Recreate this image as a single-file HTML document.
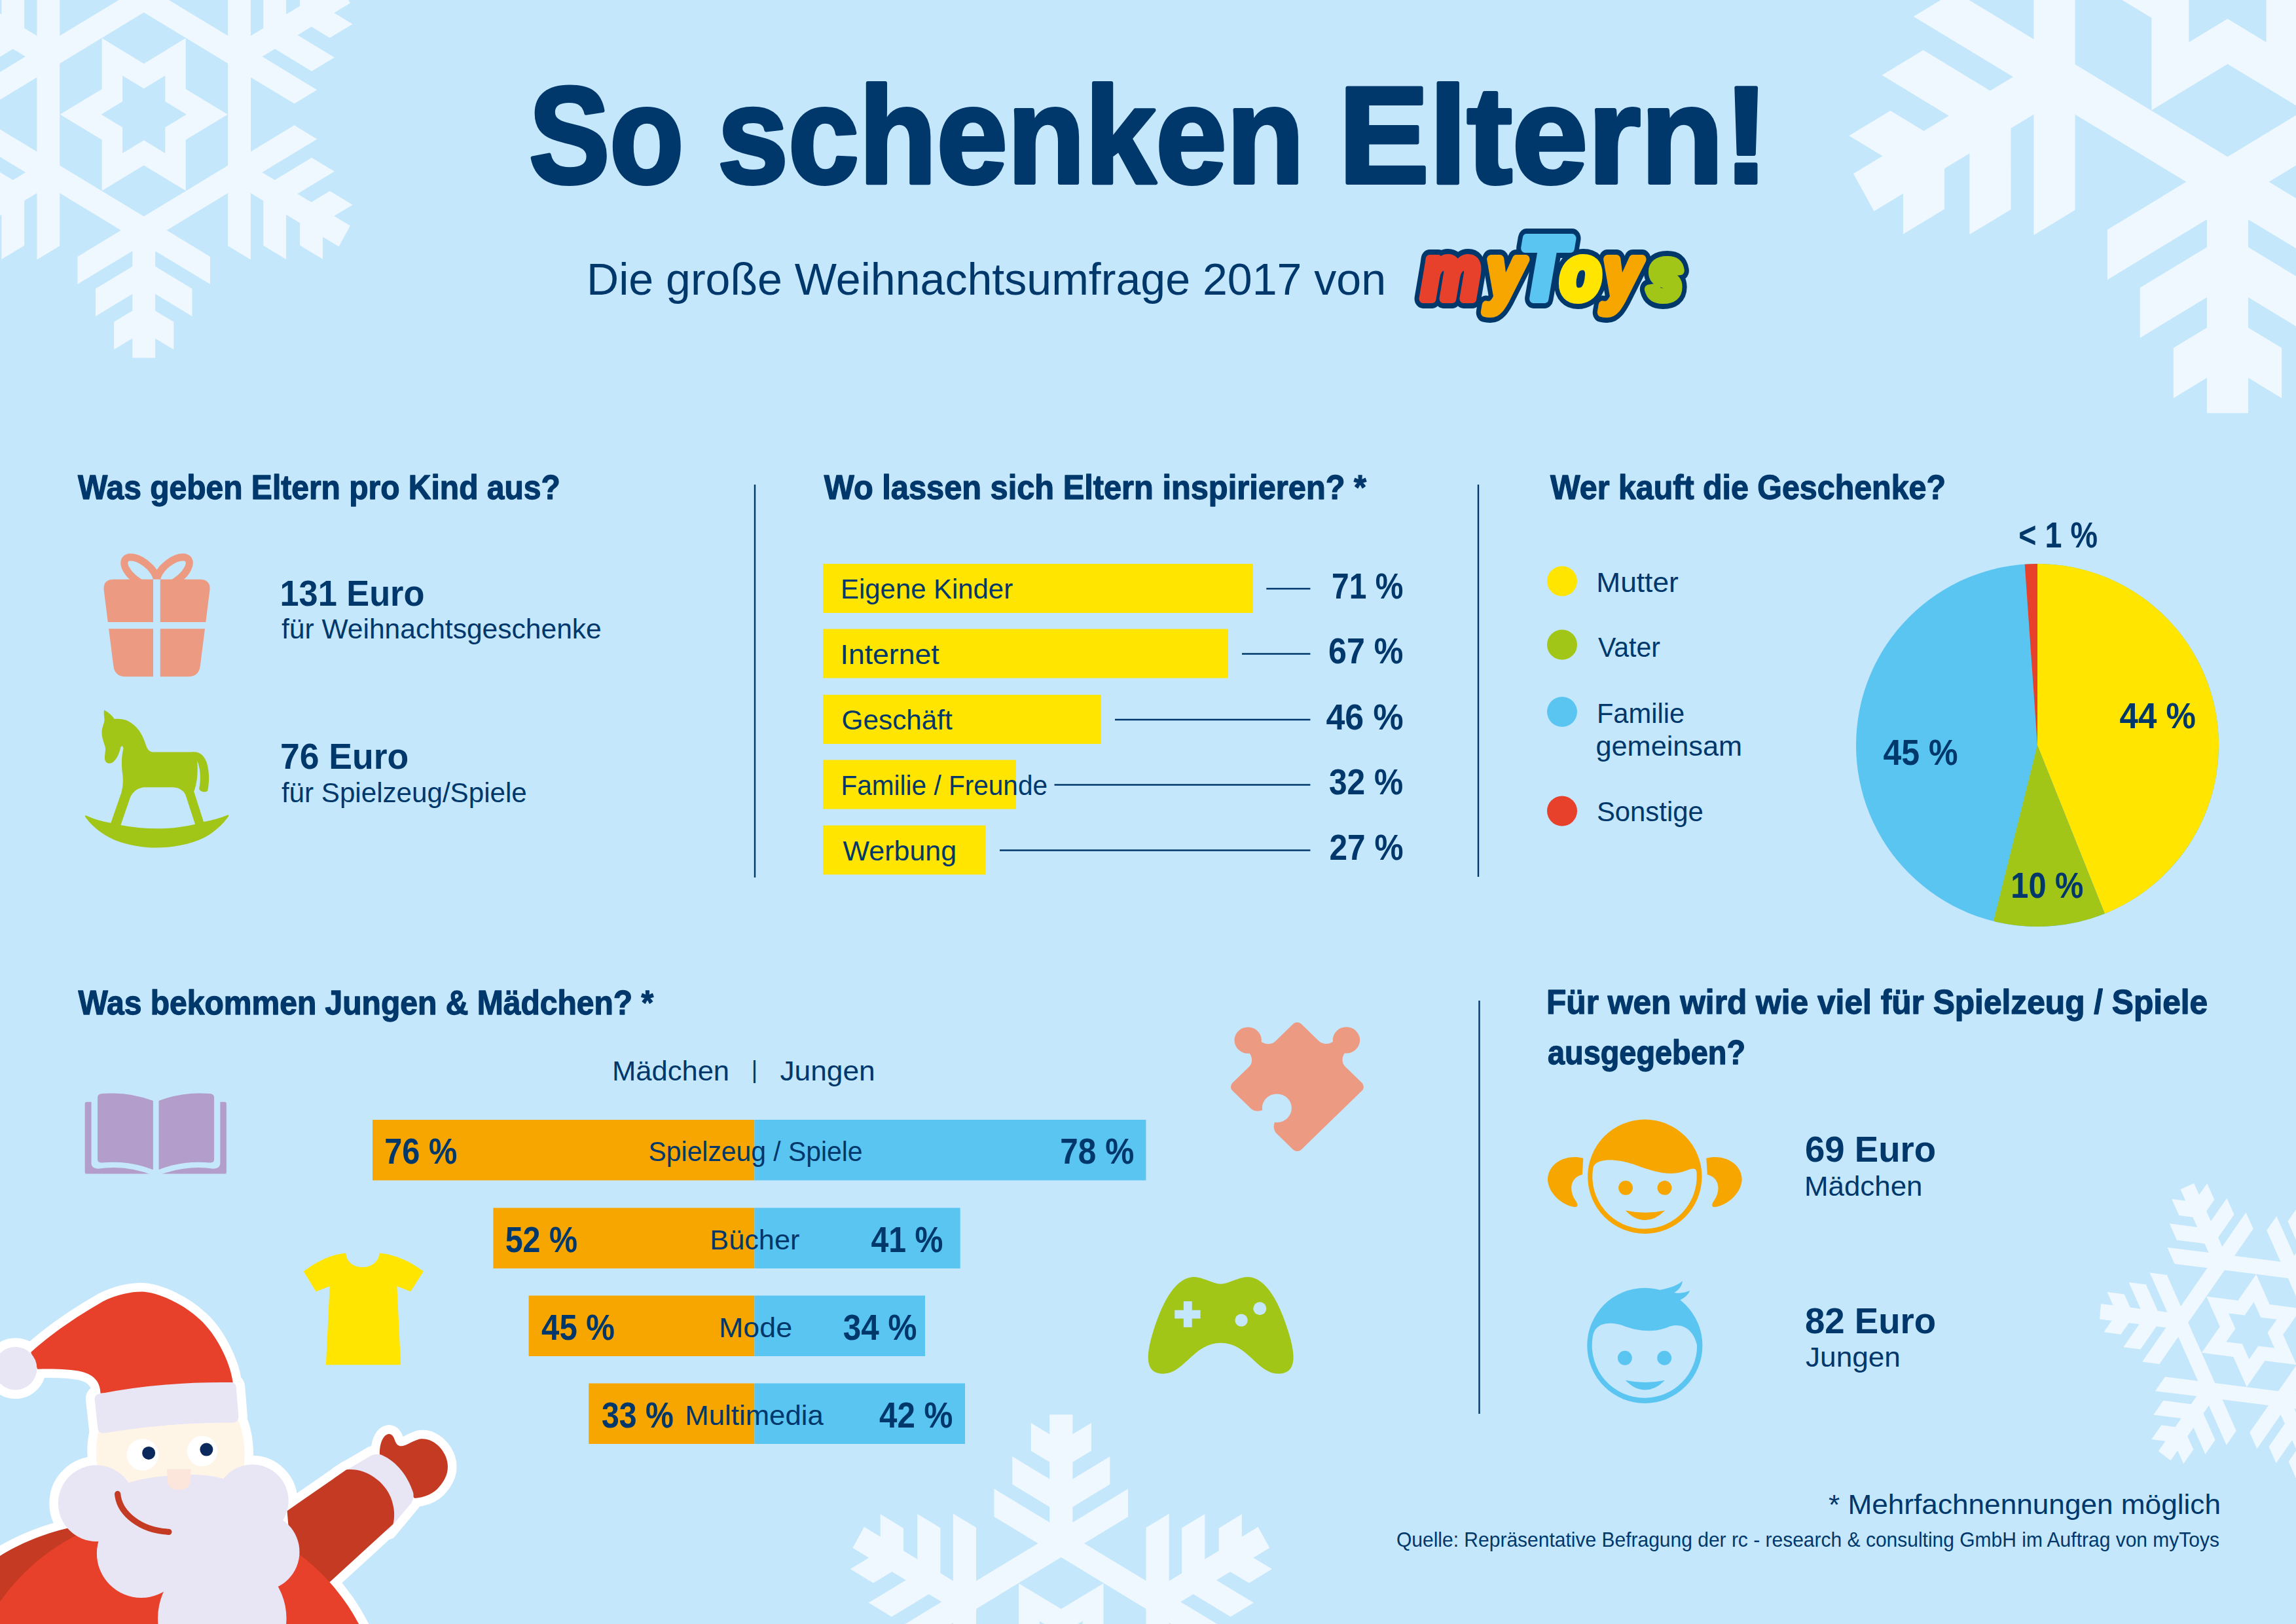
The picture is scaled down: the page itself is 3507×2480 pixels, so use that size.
<!DOCTYPE html><html lang="de"><head><meta charset="utf-8"><title>So schenken Eltern!</title>
<style>html,body{margin:0;padding:0;background:#c5e7fb}svg{display:block}text{fill:#00386c;white-space:pre}</style></head><body>
<svg width="3507" height="2480" viewBox="0 0 3507 2480" font-family="'Liberation Sans', sans-serif">
<rect width="3507" height="2480" fill="#c5e7fb"/>
<g fill="#eff8fe" transform="translate(219.7,174.8) rotate(0.0) scale(34.80,36.540)"><g transform="rotate(0)"><path d="M-0.5,4.540 L0.5,4.540 L0.5,10.170 L-0.5,10.170 Z"/><path d="M0.000,4.263 L-2.910,5.943 L-2.910,7.097 L0.000,5.417 Z"/><path d="M0.000,4.263 L2.910,5.943 L2.910,7.097 L0.000,5.417 Z"/><path d="M0.000,6.058 L-2.120,7.282 L-2.120,8.436 L0.000,7.212 Z"/><path d="M0.000,6.058 L2.120,7.282 L2.120,8.436 L0.000,7.212 Z"/><path d="M0.000,7.913 L-1.310,8.669 L-1.310,9.824 L0.000,9.067 Z"/><path d="M0.000,7.913 L1.310,8.669 L1.310,9.824 L0.000,9.067 Z"/></g><g transform="rotate(60)"><path d="M-0.5,4.540 L0.5,4.540 L0.5,10.170 L-0.5,10.170 Z"/><path d="M0.000,4.263 L-2.910,5.943 L-2.910,7.097 L0.000,5.417 Z"/><path d="M0.000,4.263 L2.910,5.943 L2.910,7.097 L0.000,5.417 Z"/><path d="M0.000,6.058 L-2.120,7.282 L-2.120,8.436 L0.000,7.212 Z"/><path d="M0.000,6.058 L2.120,7.282 L2.120,8.436 L0.000,7.212 Z"/><path d="M0.000,7.913 L-1.310,8.669 L-1.310,9.824 L0.000,9.067 Z"/><path d="M0.000,7.913 L1.310,8.669 L1.310,9.824 L0.000,9.067 Z"/></g><g transform="rotate(120)"><path d="M-0.5,4.540 L0.5,4.540 L0.5,10.170 L-0.5,10.170 Z"/><path d="M0.000,4.263 L-2.910,5.943 L-2.910,7.097 L0.000,5.417 Z"/><path d="M0.000,4.263 L2.910,5.943 L2.910,7.097 L0.000,5.417 Z"/><path d="M0.000,6.058 L-2.120,7.282 L-2.120,8.436 L0.000,7.212 Z"/><path d="M0.000,6.058 L2.120,7.282 L2.120,8.436 L0.000,7.212 Z"/><path d="M0.000,7.913 L-1.310,8.669 L-1.310,9.824 L0.000,9.067 Z"/><path d="M0.000,7.913 L1.310,8.669 L1.310,9.824 L0.000,9.067 Z"/></g><g transform="rotate(180)"><path d="M-0.5,4.540 L0.5,4.540 L0.5,10.170 L-0.5,10.170 Z"/><path d="M0.000,4.263 L-2.910,5.943 L-2.910,7.097 L0.000,5.417 Z"/><path d="M0.000,4.263 L2.910,5.943 L2.910,7.097 L0.000,5.417 Z"/><path d="M0.000,6.058 L-2.120,7.282 L-2.120,8.436 L0.000,7.212 Z"/><path d="M0.000,6.058 L2.120,7.282 L2.120,8.436 L0.000,7.212 Z"/><path d="M0.000,7.913 L-1.310,8.669 L-1.310,9.824 L0.000,9.067 Z"/><path d="M0.000,7.913 L1.310,8.669 L1.310,9.824 L0.000,9.067 Z"/></g><g transform="rotate(240)"><path d="M-0.5,4.540 L0.5,4.540 L0.5,10.170 L-0.5,10.170 Z"/><path d="M0.000,4.263 L-2.910,5.943 L-2.910,7.097 L0.000,5.417 Z"/><path d="M0.000,4.263 L2.910,5.943 L2.910,7.097 L0.000,5.417 Z"/><path d="M0.000,6.058 L-2.120,7.282 L-2.120,8.436 L0.000,7.212 Z"/><path d="M0.000,6.058 L2.120,7.282 L2.120,8.436 L0.000,7.212 Z"/><path d="M0.000,7.913 L-1.310,8.669 L-1.310,9.824 L0.000,9.067 Z"/><path d="M0.000,7.913 L1.310,8.669 L1.310,9.824 L0.000,9.067 Z"/></g><g transform="rotate(300)"><path d="M-0.5,4.540 L0.5,4.540 L0.5,10.170 L-0.5,10.170 Z"/><path d="M0.000,4.263 L-2.910,5.943 L-2.910,7.097 L0.000,5.417 Z"/><path d="M0.000,4.263 L2.910,5.943 L2.910,7.097 L0.000,5.417 Z"/><path d="M0.000,6.058 L-2.120,7.282 L-2.120,8.436 L0.000,7.212 Z"/><path d="M0.000,6.058 L2.120,7.282 L2.120,8.436 L0.000,7.212 Z"/><path d="M0.000,7.913 L-1.310,8.669 L-1.310,9.824 L0.000,9.067 Z"/><path d="M0.000,7.913 L1.310,8.669 L1.310,9.824 L0.000,9.067 Z"/></g><polygon points="4.192,2.420 0.000,4.840 -4.192,2.420 -4.192,-2.420 -0.000,-4.840 4.192,-2.420" fill="none" stroke="#eff8fe" stroke-width="1"/><path fill-rule="evenodd" d="M3.680,0.000 L1.840,1.062 L1.840,3.187 L0.000,2.125 L-1.840,3.187 L-1.840,1.062 L-3.680,0.000 L-1.840,-1.062 L-1.840,-3.187 L-0.000,-2.125 L1.840,-3.187 L1.840,-1.062 Z M1.874,0.000 L0.937,0.541 L0.937,1.623 L0.000,1.082 L-0.937,1.623 L-0.937,0.541 L-1.874,0.000 L-0.937,-0.541 L-0.937,-1.623 L-0.000,-1.082 L0.937,-1.623 L0.937,-0.541 Z"/></g>
<g fill="#eff8fe" transform="translate(3402.5,-43.0) rotate(0.0) scale(63.10,66.255)"><g transform="rotate(0)"><path d="M-0.5,4.540 L0.5,4.540 L0.5,10.170 L-0.5,10.170 Z"/><path d="M0.000,4.263 L-2.910,5.943 L-2.910,7.097 L0.000,5.417 Z"/><path d="M0.000,4.263 L2.910,5.943 L2.910,7.097 L0.000,5.417 Z"/><path d="M0.000,6.058 L-2.120,7.282 L-2.120,8.436 L0.000,7.212 Z"/><path d="M0.000,6.058 L2.120,7.282 L2.120,8.436 L0.000,7.212 Z"/><path d="M0.000,7.913 L-1.310,8.669 L-1.310,9.824 L0.000,9.067 Z"/><path d="M0.000,7.913 L1.310,8.669 L1.310,9.824 L0.000,9.067 Z"/></g><g transform="rotate(60)"><path d="M-0.5,4.540 L0.5,4.540 L0.5,10.170 L-0.5,10.170 Z"/><path d="M0.000,4.263 L-2.910,5.943 L-2.910,7.097 L0.000,5.417 Z"/><path d="M0.000,4.263 L2.910,5.943 L2.910,7.097 L0.000,5.417 Z"/><path d="M0.000,6.058 L-2.120,7.282 L-2.120,8.436 L0.000,7.212 Z"/><path d="M0.000,6.058 L2.120,7.282 L2.120,8.436 L0.000,7.212 Z"/><path d="M0.000,7.913 L-1.310,8.669 L-1.310,9.824 L0.000,9.067 Z"/><path d="M0.000,7.913 L1.310,8.669 L1.310,9.824 L0.000,9.067 Z"/></g><g transform="rotate(120)"><path d="M-0.5,4.540 L0.5,4.540 L0.5,10.170 L-0.5,10.170 Z"/><path d="M0.000,4.263 L-2.910,5.943 L-2.910,7.097 L0.000,5.417 Z"/><path d="M0.000,4.263 L2.910,5.943 L2.910,7.097 L0.000,5.417 Z"/><path d="M0.000,6.058 L-2.120,7.282 L-2.120,8.436 L0.000,7.212 Z"/><path d="M0.000,6.058 L2.120,7.282 L2.120,8.436 L0.000,7.212 Z"/><path d="M0.000,7.913 L-1.310,8.669 L-1.310,9.824 L0.000,9.067 Z"/><path d="M0.000,7.913 L1.310,8.669 L1.310,9.824 L0.000,9.067 Z"/></g><g transform="rotate(180)"><path d="M-0.5,4.540 L0.5,4.540 L0.5,10.170 L-0.5,10.170 Z"/><path d="M0.000,4.263 L-2.910,5.943 L-2.910,7.097 L0.000,5.417 Z"/><path d="M0.000,4.263 L2.910,5.943 L2.910,7.097 L0.000,5.417 Z"/><path d="M0.000,6.058 L-2.120,7.282 L-2.120,8.436 L0.000,7.212 Z"/><path d="M0.000,6.058 L2.120,7.282 L2.120,8.436 L0.000,7.212 Z"/><path d="M0.000,7.913 L-1.310,8.669 L-1.310,9.824 L0.000,9.067 Z"/><path d="M0.000,7.913 L1.310,8.669 L1.310,9.824 L0.000,9.067 Z"/></g><g transform="rotate(240)"><path d="M-0.5,4.540 L0.5,4.540 L0.5,10.170 L-0.5,10.170 Z"/><path d="M0.000,4.263 L-2.910,5.943 L-2.910,7.097 L0.000,5.417 Z"/><path d="M0.000,4.263 L2.910,5.943 L2.910,7.097 L0.000,5.417 Z"/><path d="M0.000,6.058 L-2.120,7.282 L-2.120,8.436 L0.000,7.212 Z"/><path d="M0.000,6.058 L2.120,7.282 L2.120,8.436 L0.000,7.212 Z"/><path d="M0.000,7.913 L-1.310,8.669 L-1.310,9.824 L0.000,9.067 Z"/><path d="M0.000,7.913 L1.310,8.669 L1.310,9.824 L0.000,9.067 Z"/></g><g transform="rotate(300)"><path d="M-0.5,4.540 L0.5,4.540 L0.5,10.170 L-0.5,10.170 Z"/><path d="M0.000,4.263 L-2.910,5.943 L-2.910,7.097 L0.000,5.417 Z"/><path d="M0.000,4.263 L2.910,5.943 L2.910,7.097 L0.000,5.417 Z"/><path d="M0.000,6.058 L-2.120,7.282 L-2.120,8.436 L0.000,7.212 Z"/><path d="M0.000,6.058 L2.120,7.282 L2.120,8.436 L0.000,7.212 Z"/><path d="M0.000,7.913 L-1.310,8.669 L-1.310,9.824 L0.000,9.067 Z"/><path d="M0.000,7.913 L1.310,8.669 L1.310,9.824 L0.000,9.067 Z"/></g><polygon points="4.192,2.420 0.000,4.840 -4.192,2.420 -4.192,-2.420 -0.000,-4.840 4.192,-2.420" fill="none" stroke="#eff8fe" stroke-width="1"/><path fill-rule="evenodd" d="M3.680,0.000 L1.840,1.062 L1.840,3.187 L0.000,2.125 L-1.840,3.187 L-1.840,1.062 L-3.680,0.000 L-1.840,-1.062 L-1.840,-3.187 L-0.000,-2.125 L1.840,-3.187 L1.840,-1.062 Z M1.874,0.000 L0.937,0.541 L0.937,1.623 L0.000,1.082 L-0.937,1.623 L-0.937,0.541 L-1.874,0.000 L-0.937,-0.541 L-0.937,-1.623 L-0.000,-1.082 L0.937,-1.623 L0.937,-0.541 Z"/></g>
<g fill="#eff8fe" transform="translate(1620.8,2535.5) rotate(0.0) scale(35.15,36.907)"><g transform="rotate(0)"><path d="M-0.5,4.540 L0.5,4.540 L0.5,10.170 L-0.5,10.170 Z"/><path d="M0.000,4.263 L-2.910,5.943 L-2.910,7.097 L0.000,5.417 Z"/><path d="M0.000,4.263 L2.910,5.943 L2.910,7.097 L0.000,5.417 Z"/><path d="M0.000,6.058 L-2.120,7.282 L-2.120,8.436 L0.000,7.212 Z"/><path d="M0.000,6.058 L2.120,7.282 L2.120,8.436 L0.000,7.212 Z"/><path d="M0.000,7.913 L-1.310,8.669 L-1.310,9.824 L0.000,9.067 Z"/><path d="M0.000,7.913 L1.310,8.669 L1.310,9.824 L0.000,9.067 Z"/></g><g transform="rotate(60)"><path d="M-0.5,4.540 L0.5,4.540 L0.5,10.170 L-0.5,10.170 Z"/><path d="M0.000,4.263 L-2.910,5.943 L-2.910,7.097 L0.000,5.417 Z"/><path d="M0.000,4.263 L2.910,5.943 L2.910,7.097 L0.000,5.417 Z"/><path d="M0.000,6.058 L-2.120,7.282 L-2.120,8.436 L0.000,7.212 Z"/><path d="M0.000,6.058 L2.120,7.282 L2.120,8.436 L0.000,7.212 Z"/><path d="M0.000,7.913 L-1.310,8.669 L-1.310,9.824 L0.000,9.067 Z"/><path d="M0.000,7.913 L1.310,8.669 L1.310,9.824 L0.000,9.067 Z"/></g><g transform="rotate(120)"><path d="M-0.5,4.540 L0.5,4.540 L0.5,10.170 L-0.5,10.170 Z"/><path d="M0.000,4.263 L-2.910,5.943 L-2.910,7.097 L0.000,5.417 Z"/><path d="M0.000,4.263 L2.910,5.943 L2.910,7.097 L0.000,5.417 Z"/><path d="M0.000,6.058 L-2.120,7.282 L-2.120,8.436 L0.000,7.212 Z"/><path d="M0.000,6.058 L2.120,7.282 L2.120,8.436 L0.000,7.212 Z"/><path d="M0.000,7.913 L-1.310,8.669 L-1.310,9.824 L0.000,9.067 Z"/><path d="M0.000,7.913 L1.310,8.669 L1.310,9.824 L0.000,9.067 Z"/></g><g transform="rotate(180)"><path d="M-0.5,4.540 L0.5,4.540 L0.5,10.170 L-0.5,10.170 Z"/><path d="M0.000,4.263 L-2.910,5.943 L-2.910,7.097 L0.000,5.417 Z"/><path d="M0.000,4.263 L2.910,5.943 L2.910,7.097 L0.000,5.417 Z"/><path d="M0.000,6.058 L-2.120,7.282 L-2.120,8.436 L0.000,7.212 Z"/><path d="M0.000,6.058 L2.120,7.282 L2.120,8.436 L0.000,7.212 Z"/><path d="M0.000,7.913 L-1.310,8.669 L-1.310,9.824 L0.000,9.067 Z"/><path d="M0.000,7.913 L1.310,8.669 L1.310,9.824 L0.000,9.067 Z"/></g><g transform="rotate(240)"><path d="M-0.5,4.540 L0.5,4.540 L0.5,10.170 L-0.5,10.170 Z"/><path d="M0.000,4.263 L-2.910,5.943 L-2.910,7.097 L0.000,5.417 Z"/><path d="M0.000,4.263 L2.910,5.943 L2.910,7.097 L0.000,5.417 Z"/><path d="M0.000,6.058 L-2.120,7.282 L-2.120,8.436 L0.000,7.212 Z"/><path d="M0.000,6.058 L2.120,7.282 L2.120,8.436 L0.000,7.212 Z"/><path d="M0.000,7.913 L-1.310,8.669 L-1.310,9.824 L0.000,9.067 Z"/><path d="M0.000,7.913 L1.310,8.669 L1.310,9.824 L0.000,9.067 Z"/></g><g transform="rotate(300)"><path d="M-0.5,4.540 L0.5,4.540 L0.5,10.170 L-0.5,10.170 Z"/><path d="M0.000,4.263 L-2.910,5.943 L-2.910,7.097 L0.000,5.417 Z"/><path d="M0.000,4.263 L2.910,5.943 L2.910,7.097 L0.000,5.417 Z"/><path d="M0.000,6.058 L-2.120,7.282 L-2.120,8.436 L0.000,7.212 Z"/><path d="M0.000,6.058 L2.120,7.282 L2.120,8.436 L0.000,7.212 Z"/><path d="M0.000,7.913 L-1.310,8.669 L-1.310,9.824 L0.000,9.067 Z"/><path d="M0.000,7.913 L1.310,8.669 L1.310,9.824 L0.000,9.067 Z"/></g><polygon points="4.192,2.420 0.000,4.840 -4.192,2.420 -4.192,-2.420 -0.000,-4.840 4.192,-2.420" fill="none" stroke="#eff8fe" stroke-width="1"/><path fill-rule="evenodd" d="M3.680,0.000 L1.840,1.062 L1.840,3.187 L0.000,2.125 L-1.840,3.187 L-1.840,1.062 L-3.680,0.000 L-1.840,-1.062 L-1.840,-3.187 L-0.000,-2.125 L1.840,-3.187 L1.840,-1.062 Z M1.874,0.000 L0.937,0.541 L0.937,1.623 L0.000,1.082 L-0.937,1.623 L-0.937,0.541 L-1.874,0.000 L-0.937,-0.541 L-0.937,-1.623 L-0.000,-1.082 L0.937,-1.623 L0.937,-0.541 Z"/></g>
<g fill="#eff8fe" transform="translate(3439.0,2032.0) rotate(-24.0) scale(22.60,23.730)"><g transform="rotate(0)"><path d="M-0.5,4.540 L0.5,4.540 L0.5,10.170 L-0.5,10.170 Z"/><path d="M0.000,4.263 L-2.910,5.943 L-2.910,7.097 L0.000,5.417 Z"/><path d="M0.000,4.263 L2.910,5.943 L2.910,7.097 L0.000,5.417 Z"/><path d="M0.000,6.058 L-2.120,7.282 L-2.120,8.436 L0.000,7.212 Z"/><path d="M0.000,6.058 L2.120,7.282 L2.120,8.436 L0.000,7.212 Z"/><path d="M0.000,7.913 L-1.310,8.669 L-1.310,9.824 L0.000,9.067 Z"/><path d="M0.000,7.913 L1.310,8.669 L1.310,9.824 L0.000,9.067 Z"/></g><g transform="rotate(60)"><path d="M-0.5,4.540 L0.5,4.540 L0.5,10.170 L-0.5,10.170 Z"/><path d="M0.000,4.263 L-2.910,5.943 L-2.910,7.097 L0.000,5.417 Z"/><path d="M0.000,4.263 L2.910,5.943 L2.910,7.097 L0.000,5.417 Z"/><path d="M0.000,6.058 L-2.120,7.282 L-2.120,8.436 L0.000,7.212 Z"/><path d="M0.000,6.058 L2.120,7.282 L2.120,8.436 L0.000,7.212 Z"/><path d="M0.000,7.913 L-1.310,8.669 L-1.310,9.824 L0.000,9.067 Z"/><path d="M0.000,7.913 L1.310,8.669 L1.310,9.824 L0.000,9.067 Z"/></g><g transform="rotate(120)"><path d="M-0.5,4.540 L0.5,4.540 L0.5,10.170 L-0.5,10.170 Z"/><path d="M0.000,4.263 L-2.910,5.943 L-2.910,7.097 L0.000,5.417 Z"/><path d="M0.000,4.263 L2.910,5.943 L2.910,7.097 L0.000,5.417 Z"/><path d="M0.000,6.058 L-2.120,7.282 L-2.120,8.436 L0.000,7.212 Z"/><path d="M0.000,6.058 L2.120,7.282 L2.120,8.436 L0.000,7.212 Z"/><path d="M0.000,7.913 L-1.310,8.669 L-1.310,9.824 L0.000,9.067 Z"/><path d="M0.000,7.913 L1.310,8.669 L1.310,9.824 L0.000,9.067 Z"/></g><g transform="rotate(180)"><path d="M-0.5,4.540 L0.5,4.540 L0.5,10.170 L-0.5,10.170 Z"/><path d="M0.000,4.263 L-2.910,5.943 L-2.910,7.097 L0.000,5.417 Z"/><path d="M0.000,4.263 L2.910,5.943 L2.910,7.097 L0.000,5.417 Z"/><path d="M0.000,6.058 L-2.120,7.282 L-2.120,8.436 L0.000,7.212 Z"/><path d="M0.000,6.058 L2.120,7.282 L2.120,8.436 L0.000,7.212 Z"/><path d="M0.000,7.913 L-1.310,8.669 L-1.310,9.824 L0.000,9.067 Z"/><path d="M0.000,7.913 L1.310,8.669 L1.310,9.824 L0.000,9.067 Z"/></g><g transform="rotate(240)"><path d="M-0.5,4.540 L0.5,4.540 L0.5,10.170 L-0.5,10.170 Z"/><path d="M0.000,4.263 L-2.910,5.943 L-2.910,7.097 L0.000,5.417 Z"/><path d="M0.000,4.263 L2.910,5.943 L2.910,7.097 L0.000,5.417 Z"/><path d="M0.000,6.058 L-2.120,7.282 L-2.120,8.436 L0.000,7.212 Z"/><path d="M0.000,6.058 L2.120,7.282 L2.120,8.436 L0.000,7.212 Z"/><path d="M0.000,7.913 L-1.310,8.669 L-1.310,9.824 L0.000,9.067 Z"/><path d="M0.000,7.913 L1.310,8.669 L1.310,9.824 L0.000,9.067 Z"/></g><g transform="rotate(300)"><path d="M-0.5,4.540 L0.5,4.540 L0.5,10.170 L-0.5,10.170 Z"/><path d="M0.000,4.263 L-2.910,5.943 L-2.910,7.097 L0.000,5.417 Z"/><path d="M0.000,4.263 L2.910,5.943 L2.910,7.097 L0.000,5.417 Z"/><path d="M0.000,6.058 L-2.120,7.282 L-2.120,8.436 L0.000,7.212 Z"/><path d="M0.000,6.058 L2.120,7.282 L2.120,8.436 L0.000,7.212 Z"/><path d="M0.000,7.913 L-1.310,8.669 L-1.310,9.824 L0.000,9.067 Z"/><path d="M0.000,7.913 L1.310,8.669 L1.310,9.824 L0.000,9.067 Z"/></g><polygon points="4.192,2.420 0.000,4.840 -4.192,2.420 -4.192,-2.420 -0.000,-4.840 4.192,-2.420" fill="none" stroke="#eff8fe" stroke-width="1"/><path fill-rule="evenodd" d="M3.680,0.000 L1.840,1.062 L1.840,3.187 L0.000,2.125 L-1.840,3.187 L-1.840,1.062 L-3.680,0.000 L-1.840,-1.062 L-1.840,-3.187 L-0.000,-2.125 L1.840,-3.187 L1.840,-1.062 Z M1.874,0.000 L0.937,0.541 L0.937,1.623 L0.000,1.082 L-0.937,1.623 L-0.937,0.541 L-1.874,0.000 L-0.937,-0.541 L-0.937,-1.623 L-0.000,-1.082 L0.937,-1.623 L0.937,-0.541 Z"/></g>
<line x1="1153.0" y1="740" x2="1153.0" y2="1340" stroke="#00386c" stroke-width="2.4"/>
<line x1="2258.0" y1="740" x2="2258.0" y2="1339" stroke="#00386c" stroke-width="2.4"/>
<line x1="2259.5" y1="1528" x2="2259.5" y2="2159" stroke="#00386c" stroke-width="2.4"/>
<text id="title" y="278.5" font-size="210" font-weight="700" stroke="#00386c" stroke-width="6" stroke-linejoin="round"><tspan id="title_0" x="807.9" textLength="236.3" lengthAdjust="spacingAndGlyphs">So</tspan> <tspan id="title_1" x="1095.9" textLength="896.2" lengthAdjust="spacingAndGlyphs">schenken</tspan> <tspan id="title_2" x="2044.6" textLength="657.2" lengthAdjust="spacingAndGlyphs">Eltern!</tspan></text>
<text id="sub" x="896.0" y="450.0" font-size="68"  textLength="1221.1" lengthAdjust="spacingAndGlyphs">Die große Weihnachtsumfrage 2017 von</text>
<text id="h1" x="119.0" y="762.0" font-size="52" font-weight="700" textLength="736.8" lengthAdjust="spacingAndGlyphs" stroke="#00386c" stroke-width="1.3" stroke-linejoin="round">Was geben Eltern pro Kind aus?</text>
<text id="h2" x="1258.8" y="762.0" font-size="52" font-weight="700" textLength="828.2" lengthAdjust="spacingAndGlyphs" stroke="#00386c" stroke-width="1.3" stroke-linejoin="round">Wo lassen sich Eltern inspirieren? *</text>
<text id="h3" x="2368.0" y="762.0" font-size="52" font-weight="700" textLength="604.0" lengthAdjust="spacingAndGlyphs" stroke="#00386c" stroke-width="1.3" stroke-linejoin="round">Wer kauft die Geschenke?</text>
<text id="h4" x="119.4" y="1549.0" font-size="52" font-weight="700" textLength="878.8" lengthAdjust="spacingAndGlyphs" stroke="#00386c" stroke-width="1.3" stroke-linejoin="round">Was bekommen Jungen &amp; Mädchen? *</text>
<text id="h5a" x="2362.0" y="1548.0" font-size="52" font-weight="700" textLength="1010.2" lengthAdjust="spacingAndGlyphs" stroke="#00386c" stroke-width="1.3" stroke-linejoin="round">Für wen wird wie viel für Spielzeug / Spiele</text>
<text id="h5b" x="2364.0" y="1624.5" font-size="52" font-weight="700" textLength="302.0" lengthAdjust="spacingAndGlyphs" stroke="#00386c" stroke-width="1.3" stroke-linejoin="round">ausgegeben?</text>
<text id="s1a" x="427.5" y="925.3" font-size="55" font-weight="700" textLength="220.9" lengthAdjust="spacingAndGlyphs">131 Euro</text>
<text id="s1b" x="429.9" y="974.6" font-size="42"  textLength="488.9" lengthAdjust="spacingAndGlyphs">für Weihnachtsgeschenke</text>
<text id="s1c" x="427.9" y="1174.4" font-size="55" font-weight="700" textLength="196.3" lengthAdjust="spacingAndGlyphs">76 Euro</text>
<text id="s1d" x="429.9" y="1225.2" font-size="42"  textLength="374.9" lengthAdjust="spacingAndGlyphs">für Spielzeug/Spiele</text>
<rect x="1257" y="861.0" width="657.0" height="75" fill="#ffe500"/>
<line x1="1934.3" y1="899.0" x2="2001.4" y2="899.0" stroke="#00386c" stroke-width="2.4"/>
<text id="b2l0" x="1284.1" y="914.3" font-size="42"  textLength="263.0" lengthAdjust="spacingAndGlyphs">Eigene Kinder</text>
<text id="b2p0" x="2034.0" y="913.8" font-size="55" font-weight="700" textLength="109.3" lengthAdjust="spacingAndGlyphs">71 %</text>
<rect x="1257" y="960.5" width="619.0" height="75" fill="#ffe500"/>
<line x1="1897.0" y1="998.5" x2="2001.4" y2="998.5" stroke="#00386c" stroke-width="2.4"/>
<text id="b2l1" x="1283.5" y="1013.8" font-size="42"  textLength="151.2" lengthAdjust="spacingAndGlyphs">Internet</text>
<text id="b2p1" x="2029.0" y="1013.3" font-size="55" font-weight="700" textLength="114.3" lengthAdjust="spacingAndGlyphs">67 %</text>
<rect x="1257" y="1061.0" width="425.0" height="75" fill="#ffe500"/>
<line x1="1703.0" y1="1099.0" x2="2001.4" y2="1099.0" stroke="#00386c" stroke-width="2.4"/>
<text id="b2l2" x="1285.6" y="1114.3" font-size="42"  textLength="169.2" lengthAdjust="spacingAndGlyphs">Geschäft</text>
<text id="b2p2" x="2025.4" y="1113.8" font-size="55" font-weight="700" textLength="118.3" lengthAdjust="spacingAndGlyphs">46 %</text>
<rect x="1257" y="1160.5" width="295.0" height="75" fill="#ffe500"/>
<line x1="1610.5" y1="1198.5" x2="2001.4" y2="1198.5" stroke="#00386c" stroke-width="2.4"/>
<text id="b2l3" x="1284.5" y="1213.8" font-size="42"  textLength="315.5" lengthAdjust="spacingAndGlyphs">Familie / Freunde</text>
<text id="b2p3" x="2030.0" y="1213.3" font-size="55" font-weight="700" textLength="113.2" lengthAdjust="spacingAndGlyphs">32 %</text>
<rect x="1257" y="1260.5" width="248.5" height="75" fill="#ffe500"/>
<line x1="1527.0" y1="1298.5" x2="2001.4" y2="1298.5" stroke="#00386c" stroke-width="2.4"/>
<text id="b2l4" x="1287.6" y="1313.8" font-size="42"  textLength="173.5" lengthAdjust="spacingAndGlyphs">Werbung</text>
<text id="b2p4" x="2030.5" y="1313.3" font-size="55" font-weight="700" textLength="113.0" lengthAdjust="spacingAndGlyphs">27 %</text>
<circle cx="2386" cy="887.5" r="23" fill="#ffe500"/>
<circle cx="2386" cy="984.6" r="23" fill="#a2c617"/>
<circle cx="2386" cy="1087.0" r="23" fill="#5bc5f2"/>
<circle cx="2386" cy="1238.4" r="23" fill="#e8412b"/>
<text id="l0" x="2438.3" y="903.5" font-size="42"  textLength="125.5" lengthAdjust="spacingAndGlyphs">Mutter</text>
<text id="l1" x="2441.0" y="1002.8" font-size="42"  textLength="95.0" lengthAdjust="spacingAndGlyphs">Vater</text>
<text id="l2" x="2438.9" y="1103.8" font-size="42"  textLength="134.2" lengthAdjust="spacingAndGlyphs">Familie</text>
<text id="l3" x="2437.5" y="1153.5" font-size="42"  textLength="223.6" lengthAdjust="spacingAndGlyphs">gemeinsam</text>
<text id="l4" x="2438.9" y="1253.9" font-size="42"  textLength="162.9" lengthAdjust="spacingAndGlyphs">Sonstige</text>
<circle cx="3112" cy="1138" r="277" fill="#5bc5f2"/>
<path d="M3112,1138 L3112.00,861.00 A277,277 0 0 1 3214.87,1395.19 Z" fill="#ffe500"/>
<path d="M3112,1138 L3214.87,1395.19 A277,277 0 0 1 3044.99,1406.77 Z" fill="#a2c617"/>
<path d="M3112,1138 L3092.68,861.67 A277,277 0 0 1 3112.00,861.00 Z" fill="#e8412b"/>
<text id="p0" x="3083.3" y="835.6" font-size="55" font-weight="700" textLength="120.7" lengthAdjust="spacingAndGlyphs">&lt; 1 %</text>
<text id="p1" x="3237.6" y="1111.5" font-size="55" font-weight="700" textLength="116.4" lengthAdjust="spacingAndGlyphs">44 %</text>
<text id="p2" x="2876.4" y="1168.4" font-size="55" font-weight="700" textLength="114.1" lengthAdjust="spacingAndGlyphs">45 %</text>
<text id="p3" x="3071.3" y="1370.9" font-size="55" font-weight="700" textLength="111.2" lengthAdjust="spacingAndGlyphs">10 %</text>
<rect x="569.0" y="1710.0" width="583.4" height="92.5" fill="#f7a600"/>
<rect x="1152.4" y="1710.0" width="598.0" height="92.5" fill="#5bc5f2"/>
<text id="b4a0" x="587.3" y="1777.0" font-size="55" font-weight="700" textLength="110.9" lengthAdjust="spacingAndGlyphs">76 %</text>
<text id="b4b0" x="1619.3" y="1777.0" font-size="55" font-weight="700" textLength="112.9" lengthAdjust="spacingAndGlyphs">78 %</text>
<text id="b4c0" x="990.6" y="1773.0" font-size="42"  textLength="327.0" lengthAdjust="spacingAndGlyphs">Spielzeug / Spiele</text>
<rect x="753.4" y="1844.5" width="399.0" height="92.5" fill="#f7a600"/>
<rect x="1152.4" y="1844.5" width="314.3" height="92.5" fill="#5bc5f2"/>
<text id="b4a1" x="771.7" y="1911.5" font-size="55" font-weight="700" textLength="110.3" lengthAdjust="spacingAndGlyphs">52 %</text>
<text id="b4b1" x="1330.4" y="1911.5" font-size="55" font-weight="700" textLength="109.9" lengthAdjust="spacingAndGlyphs">41 %</text>
<text id="b4c1" x="1084.3" y="1907.5" font-size="42"  textLength="137.1" lengthAdjust="spacingAndGlyphs">Bücher</text>
<rect x="807.6" y="1978.5" width="344.8" height="92.5" fill="#f7a600"/>
<rect x="1152.4" y="1978.5" width="260.6" height="92.5" fill="#5bc5f2"/>
<text id="b4a2" x="827.1" y="2045.5" font-size="55" font-weight="700" textLength="111.9" lengthAdjust="spacingAndGlyphs">45 %</text>
<text id="b4b2" x="1287.8" y="2045.5" font-size="55" font-weight="700" textLength="112.7" lengthAdjust="spacingAndGlyphs">34 %</text>
<text id="b4c2" x="1098.0" y="2041.5" font-size="42"  textLength="112.1" lengthAdjust="spacingAndGlyphs">Mode</text>
<rect x="899.2" y="2112.5" width="253.2" height="92.5" fill="#f7a600"/>
<rect x="1152.4" y="2112.5" width="321.6" height="92.5" fill="#5bc5f2"/>
<text id="b4a3" x="919.0" y="2179.5" font-size="55" font-weight="700" textLength="109.9" lengthAdjust="spacingAndGlyphs">33 %</text>
<text id="b4b3" x="1343.0" y="2179.5" font-size="55" font-weight="700" textLength="112.4" lengthAdjust="spacingAndGlyphs">42 %</text>
<text id="b4c3" x="1046.3" y="2175.5" font-size="42"  textLength="211.5" lengthAdjust="spacingAndGlyphs">Multimedia</text>
<text id="mj0" x="934.9" y="1650.0" font-size="42"  textLength="179.2" lengthAdjust="spacingAndGlyphs">Mädchen</text>
<text id="mj1" x="1191.4" y="1650.0" font-size="42"  textLength="145.3" lengthAdjust="spacingAndGlyphs">Jungen</text>
<text x="1152.4" y="1645.8" font-size="36" text-anchor="middle">|</text>
<text id="s5a" x="2757.0" y="1774.0" font-size="55" font-weight="700" textLength="200.1" lengthAdjust="spacingAndGlyphs">69 Euro</text>
<text id="s5b" x="2755.9" y="1825.5" font-size="42"  textLength="180.6" lengthAdjust="spacingAndGlyphs">Mädchen</text>
<text id="s5c" x="2757.0" y="2036.0" font-size="55" font-weight="700" textLength="200.1" lengthAdjust="spacingAndGlyphs">82 Euro</text>
<text id="s5d" x="2758.0" y="2086.8" font-size="42"  textLength="144.9" lengthAdjust="spacingAndGlyphs">Jungen</text>
<text id="f1" x="2793.0" y="2311.5" font-size="42"  textLength="599.0" lengthAdjust="spacingAndGlyphs">* Mehrfachnennungen möglich</text>
<text id="f2" x="2133.0" y="2362.0" font-size="30.5"  textLength="1257.0" lengthAdjust="spacingAndGlyphs">Quelle: Repräsentative Befragung der rc - research &amp; consulting GmbH im Auftrag von myToys</text>
<g transform="translate(120,820) scale(0.30807)" >
<path fill="none" stroke="#ec9a82" stroke-width="36" d="M390,215 C378,150 298,94 248,101 C203,112 228,190 330,240"/>
<path fill="none" stroke="#ec9a82" stroke-width="36" d="M386,215 C398,150 478,94 528,101 C573,112 548,190 446,240"/>
<path fill="#ec9a82" d="M175,210 L600,210 Q658,210 650,268 L603,640 Q596,692 544,692 L232,692 Q180,692 173,640 L126,268 Q118,210 175,210 Z"/>
<rect x="370" y="210" width="35" height="500" fill="#c5e7fb"/>
<rect x="100" y="422" width="580" height="33" fill="#c5e7fb"/>
</g>
<g transform="translate(120,820) scale(0.30807)" >
<path fill="#a2c617" fill-rule="evenodd" d="M127,858 C150,870 165,885 178,902 C200,900 225,902 245,912 C290,935 315,975 330,1020 C338,1045 345,1062 365,1066
L560,1066 C600,1060 625,1085 636,1120 C648,1160 650,1210 640,1258 C630,1270 600,1262 598,1248 C606,1200 606,1150 588,1110
C592,1160 590,1215 572,1262 L620,1412 C665,1405 705,1392 740,1378 C745,1376 745,1383 742,1387 C700,1445 640,1490 570,1512 C450,1550 320,1550 205,1512 C135,1488 75,1445 35,1390 C30,1383 32,1377 40,1382
C75,1398 115,1410 160,1418 L212,1268 C222,1230 222,1200 216,1160 C212,1120 214,1080 222,1050 C222,1035 212,1030 208,1045 C200,1080 188,1105 165,1120 C150,1126 132,1120 130,1100 C128,1080 136,1060 132,1040
C122,1010 112,985 116,960 C118,935 130,920 128,900 C126,885 124,870 127,858 Z
M209,1428 L257,1289 Q280,1243 330,1241 L470,1241 Q512,1243 530,1277 L578,1424 Q400,1465 209,1428 Z"/>
</g>
<g transform="translate(110,1640) scale(0.28944)" >
<rect x="68" y="148" width="747" height="379" rx="10" fill="#b39dcb"/>
<path fill="#c5e7fb" d="M102,130 L102,470 Q102,500 140,500 Q290,478 443,540 Q596,478 745,500 Q782,500 782,470 L782,130 Z"/>
<path fill="#b39dcb" d="M135,125 Q135,105 160,104 Q300,92 428,142 L428,505 Q300,455 160,468 Q135,470 135,450 Z"/>
<path fill="#b39dcb" d="M750,125 Q750,105 725,104 Q585,92 458,142 L458,505 Q585,455 725,468 Q750,470 750,450 Z"/>
</g>
<g transform="translate(110,1640) scale(0.28944)" >
<path fill="#ffe500" d="M1445,945 C1450,1045 1615,1045 1622,945 C1720,955 1800,1000 1855,1042 L1787,1148 L1715,1120 L1735,1535 L1340,1535 L1360,1120 L1287,1148 L1222,1042 C1280,1000 1350,955 1445,945 Z"/>
</g>
<g transform="translate(1720,1540) scale(0.35714)" >
<g transform="translate(732,335) scale(1,0.97) rotate(45)">
<rect x="-208" y="-208" width="416" height="416" rx="24" fill="#ec9a82"/>
<circle cx="3" cy="-294" r="58" fill="#ec9a82"/>
<path fill="#ec9a82" d="M-88,-206 Q-36,-206 -30,-262 L36,-262 Q42,-206 94,-206 Z"/>
<circle cx="-294" cy="4" r="58" fill="#ec9a82"/>
<path fill="#ec9a82" d="M-206,-87 Q-206,-35 -262,-29 L-262,37 Q-206,43 -206,95 Z"/>
<circle cx="5" cy="128" r="63" fill="#c5e7fb"/>
<path fill="#c5e7fb" d="M-80,210 Q-30,206 -26,150 L36,150 Q40,206 90,210 Z"/>
</g>
</g>
<g transform="translate(1720,1540) scale(0.35714)" >
<path fill="#a2c617" d="M405,1178 C370,1178 330,1148 290,1148 C200,1150 140,1290 105,1420 C80,1520 100,1562 160,1562 C250,1560 290,1430 405,1430 C520,1430 560,1560 650,1562 C710,1562 730,1520 705,1420 C670,1290 610,1150 520,1148 C480,1148 440,1178 405,1178 Z"/>
<rect x="208" y="1290" width="110" height="36" fill="#c5e7fb"/><rect x="246" y="1252" width="36" height="111" fill="#c5e7fb"/>
<circle cx="572" cy="1283" r="28" fill="#c5e7fb"/><circle cx="493" cy="1333" r="27" fill="#c5e7fb"/>
</g>
<g transform="translate(2340,1680) scale(0.29560)" >
<circle cx="583" cy="395" r="295" fill="#f7a600"/>
<path fill="#c5e7fb" d="M316,350 C325,300 430,300 520,330 C620,365 700,395 780,370 C820,355 852,340 851,380 A270,270 0 0 1 583,665 A270,270 0 0 1 316,350 Z"/>
<circle cx="484" cy="453" r="37" fill="#f7a600"/><circle cx="685" cy="453" r="37" fill="#f7a600"/>
<path fill="#f7a600" d="M483,570 Q585,592 687,570 Q640,620 585,620 Q530,620 483,570 Z"/>
<path fill="#f7a600" d="M265,300 C180,278 85,320 81,410 C85,490 170,550 226,552 C240,550 236,535 226,520 C190,470 195,400 260,385 Z"/>
<path fill="#f7a600" d="M901,300 C986,278 1081,320 1085,410 C1081,490 996,550 940,552 C926,550 930,535 940,520 C976,470 971,400 906,385 Z"/>

<circle cx="583" cy="1268" r="298" fill="#5bc5f2"/>
<path fill="#c5e7fb" d="M313,1230 C318,1150 400,1140 470,1165 C560,1200 640,1200 710,1170 C770,1150 835,1180 853,1268 A270,270 0 0 1 583,1538 A270,270 0 0 1 313,1230 Z"/>
<circle cx="480" cy="1332" r="37" fill="#5bc5f2"/><circle cx="684" cy="1332" r="37" fill="#5bc5f2"/>
<path fill="#5bc5f2" d="M483,1447 Q585,1469 687,1447 Q640,1497 585,1497 Q530,1497 483,1447 Z"/>
<path fill="#5bc5f2" d="M640,985 C700,975 750,960 778,934 C775,960 760,980 735,995 C765,1000 795,995 816,984 C805,1010 785,1025 760,1035 L640,1035 Z"/>
</g>
<g transform="translate(0,1900) scale(0.35714)" ><g fill="#fff" stroke="#fff" stroke-width="76" stroke-linejoin="round"><path d="M-30,1352 C60,1292 160,1245 300,1212 L470,1350 L-30,1750 Z"/><path d="M1624,900 C1622,860 1635,815 1663,811 C1690,812 1685,850 1704,860 C1725,872 1745,850 1792,834 C1840,825 1885,860 1906,907 C1925,955 1915,1000 1870,1047 C1840,1075 1800,1085 1772,1086 L1700,1000 Z"/><path d="M1450,985 L1590,902 Q1610,895 1630,900 C1700,930 1745,995 1767,1062 Q1772,1085 1760,1105 L1660,1225 Z"/><path d="M1228,1140 L1482,964 C1560,955 1640,1010 1670,1080 C1690,1130 1688,1170 1681,1197 L1410,1445 L1250,1400 Z"/><circle cx="738" cy="2047" r="902"/><path d="M132,462 C200,400 300,325 441,244 C500,215 560,203 607,203 C680,205 790,260 855,322 C920,380 985,500 996,592 L430,638 C428,590 405,560 350,545 C300,533 220,532 160,534 Z"/><circle cx="66" cy="531" r="92"/><path d="M425,785 L1015,745 C1042,800 1052,880 1042,965 L960,1015 L560,1025 L420,965 C405,900 410,840 425,785 Z"/><path d="M430,639 Q690,588 985,591 Q1008,589 1010,612 L1020,735 Q1022,760 998,763 Q720,762 445,808 Q420,810 418,785 L405,665 Q403,641 430,639 Z"/><g><circle cx="412" cy="1108" r="163"/><circle cx="1079" cy="1097" r="155"/><circle cx="604" cy="1322" r="190"/><circle cx="1116" cy="1316" r="165"/><circle cx="950" cy="1600" r="275"/><path d="M520,1030 C600,1000 700,988 800,985 C870,985 920,992 960,1005 L1150,1200 L1150,1480 L700,1480 L520,1300 Z"/></g></g><g fill="#c43a23"><path d="M-30,1352 C60,1292 160,1245 300,1212 L470,1350 L-30,1750 Z"/></g><g fill="#c43a23"><path d="M1624,900 C1622,860 1635,815 1663,811 C1690,812 1685,850 1704,860 C1725,872 1745,850 1792,834 C1840,825 1885,860 1906,907 C1925,955 1915,1000 1870,1047 C1840,1075 1800,1085 1772,1086 L1700,1000 Z"/></g><g fill="#e8e5f4"><path d="M1450,985 L1590,902 Q1610,895 1630,900 C1700,930 1745,995 1767,1062 Q1772,1085 1760,1105 L1660,1225 Z"/></g><g fill="#c43a23"><path d="M1228,1140 L1482,964 C1560,955 1640,1010 1670,1080 C1690,1130 1688,1170 1681,1197 L1410,1445 L1250,1400 Z"/></g><g fill="#e8412b"><circle cx="738" cy="2047" r="902"/></g><g fill="#e8412b"><path d="M132,462 C200,400 300,325 441,244 C500,215 560,203 607,203 C680,205 790,260 855,322 C920,380 985,500 996,592 L430,638 C428,590 405,560 350,545 C300,533 220,532 160,534 Z"/></g><g fill="#e8e5f4"><circle cx="66" cy="531" r="92"/></g><g fill="#fef5e7"><path d="M425,785 L1015,745 C1042,800 1052,880 1042,965 L960,1015 L560,1025 L420,965 C405,900 410,840 425,785 Z"/></g><g fill="#e8e5f4"><path d="M430,639 Q690,588 985,591 Q1008,589 1010,612 L1020,735 Q1022,760 998,763 Q720,762 445,808 Q420,810 418,785 L405,665 Q403,641 430,639 Z"/></g><g fill="#e8e5f4"><g><circle cx="412" cy="1108" r="163"/><circle cx="1079" cy="1097" r="155"/><circle cx="604" cy="1322" r="190"/><circle cx="1116" cy="1316" r="165"/><circle cx="950" cy="1600" r="275"/><path d="M520,1030 C600,1000 700,988 800,985 C870,985 920,992 960,1005 L1150,1200 L1150,1480 L700,1480 L520,1300 Z"/></g></g><circle cx="610" cy="900" r="68" fill="#fff"/><circle cx="865" cy="885" r="65" fill="#fff"/><circle cx="636" cy="893" r="28" fill="#0b2a5b"/><circle cx="883" cy="878" r="28" fill="#0b2a5b"/><path d="M714,962 L816,962 L814,1010 Q812,1050 765,1050 Q718,1050 716,1010 Z" fill="#fce6dc"/><path d="M503,1068 C510,1150 600,1225 722,1230" fill="none" stroke="#c43a23" stroke-width="26" stroke-linecap="round"/></g>
<text transform="scale(0.88,1)" font-weight="700" font-style="italic" style="fill:#00386c" stroke="#00386c" stroke-width="30" stroke-linejoin="round"><tspan x="2468.18" y="456.0" font-size="113">m</tspan><tspan x="2581.82" y="455.5" font-size="111">y</tspan><tspan x="2637.50" y="456.5" font-size="134">T</tspan><tspan x="2709.09" y="456.0" font-size="113">o</tspan><tspan x="2784.09" y="455.5" font-size="111">y</tspan><tspan x="2860.23" y="456.0" font-size="108">s</tspan></text>
<text transform="scale(0.88,1)" font-weight="700" font-style="italic" stroke-width="14" stroke-linejoin="round"><tspan x="2468.18" y="456.0" font-size="113" fill="#e8412b" stroke="#e8412b">m</tspan><tspan x="2581.82" y="455.5" font-size="111" fill="#f7a600" stroke="#f7a600">y</tspan><tspan x="2637.50" y="456.5" font-size="134" fill="#5bc5f2" stroke="#5bc5f2">T</tspan><tspan x="2709.09" y="456.0" font-size="113" fill="#ffe500" stroke="#ffe500">o</tspan><tspan x="2784.09" y="455.5" font-size="111" fill="#f7a600" stroke="#f7a600">y</tspan><tspan x="2860.23" y="456.0" font-size="108" fill="#a2c617" stroke="#a2c617">s</tspan></text>
</svg></body></html>
